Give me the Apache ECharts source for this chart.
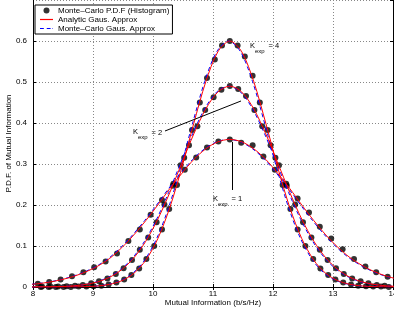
<!DOCTYPE html>
<html>
<head>
<meta charset="utf-8">
<script src="https://cdn.jsdelivr.net/npm/echarts/dist/echarts.min.js"></script>
<style>
  html, body { margin: 0; padding: 0; background: #fff; }
  #main { width: 394px; height: 310px; }
</style>
</head>
<body>
<div id="main"></div>
<script>
// Monte-Carlo histogram points (bin centres / pdf height)
var k1HistX = [8.08, 8.27, 8.46, 8.65, 8.84, 9.02, 9.21, 9.40, 9.59, 9.78, 9.96, 10.15, 10.34, 10.53, 10.72, 10.90,
    11.09, 11.28, 11.47, 11.66, 11.84, 12.03, 12.22, 12.41, 12.60, 12.78, 12.97, 13.16, 13.35, 13.54, 13.72, 13.91];
var k1HistY = [0.008, 0.012, 0.018, 0.026, 0.036, 0.048, 0.062, 0.082, 0.112, 0.140, 0.176, 0.212, 0.252, 0.286, 0.316, 0.340,
    0.355, 0.360, 0.352, 0.346, 0.318, 0.286, 0.252, 0.216, 0.182, 0.147, 0.118, 0.092, 0.068, 0.050, 0.036, 0.025];

var k2HistX = [8.15, 8.29, 8.42, 8.56, 8.70, 8.83, 8.97, 9.10, 9.24, 9.38, 9.51, 9.65, 9.78, 9.92, 10.06, 10.19, 10.33, 10.46,
    10.60, 10.74, 10.87, 11.01, 11.14, 11.28, 11.42, 11.55, 11.69, 11.82, 11.96, 12.10, 12.23, 12.37, 12.50, 12.64, 12.78,
    12.91, 13.05, 13.18, 13.32, 13.46, 13.59, 13.73, 13.86];
var k2HistY = [0.001, 0.001, 0.001, 0.002, 0.003, 0.005, 0.009, 0.014, 0.021, 0.032, 0.046, 0.066, 0.091, 0.121, 0.158, 0.201,
    0.247, 0.297, 0.346, 0.392, 0.432, 0.463, 0.481, 0.490, 0.483, 0.466, 0.432, 0.392, 0.346, 0.297, 0.247, 0.201, 0.158,
    0.121, 0.091, 0.066, 0.046, 0.032, 0.021, 0.014, 0.009, 0.005, 0.003];

var k4HistX = [8.13, 8.26, 8.38, 8.51, 8.63, 8.76, 8.89, 9.01, 9.14, 9.26, 9.39, 9.52, 9.64, 9.77, 9.89, 10.02, 10.15, 10.27,
    10.40, 10.52, 10.65, 10.78, 10.90, 11.03, 11.15, 11.28, 11.41, 11.53, 11.66, 11.78, 11.91, 12.04, 12.16, 12.29, 12.41,
    12.54, 12.67, 12.79, 12.92, 13.04, 13.17, 13.30, 13.42, 13.55, 13.67, 13.80, 13.93];
var k4HistY = [0, 0, 0, 0, 0, 0.001, 0.001, 0.002, 0.003, 0.006, 0.011, 0.018, 0.029, 0.045, 0.068, 0.100, 0.140, 0.190,
    0.249, 0.315, 0.383, 0.450, 0.510, 0.555, 0.589, 0.600, 0.589, 0.562, 0.515, 0.450, 0.383, 0.315, 0.249, 0.190, 0.140,
    0.100, 0.068, 0.045, 0.029, 0.018, 0.011, 0.006, 0.003, 0.002, 0.001, 0.001, 0];

// Gaussian approximation curves
var analyticX = [7.88, 8.08, 8.28, 8.48, 8.68, 8.88, 9.08, 9.28, 9.48, 9.68, 9.88, 10.08, 10.28, 10.48, 10.68, 10.88,
    11.08, 11.28, 11.48, 11.68, 11.88, 12.08, 12.28, 12.48, 12.68, 12.88, 13.08, 13.28, 13.48, 13.68, 13.88, 14.08];
var mcGausX = [7.86, 8.06, 8.26, 8.46, 8.66, 8.86, 9.06, 9.26, 9.46, 9.66, 9.86, 10.06, 10.26, 10.46, 10.66, 10.86,
    11.06, 11.26, 11.46, 11.66, 11.86, 12.06, 12.26, 12.46, 12.66, 12.86, 13.06, 13.26, 13.46, 13.66, 13.86, 14.06];
var k1GausY = [0.005, 0.008, 0.012, 0.018, 0.026, 0.037, 0.051, 0.070, 0.096, 0.127, 0.162, 0.200, 0.240, 0.277, 0.311, 0.337,
    0.354, 0.360, 0.354, 0.337, 0.311, 0.277, 0.240, 0.200, 0.162, 0.127, 0.097, 0.072, 0.053, 0.038, 0.027, 0.019];
var k2GausY = [0.0001, 0.0002, 0.0005, 0.0013, 0.0030, 0.0063, 0.0127, 0.0240, 0.0425, 0.0710, 0.1117, 0.1653, 0.2304, 0.3023,
    0.3734, 0.4343, 0.4754, 0.49, 0.4754, 0.4343, 0.3734, 0.3023, 0.2304, 0.1653, 0.1117, 0.0710, 0.0425, 0.0240, 0.0127,
    0.0063, 0.0030, 0.0013];
var k4GausY = [0, 0, 0, 0.0001, 0.0003, 0.0009, 0.0025, 0.0065, 0.0154, 0.0332, 0.0654, 0.1178, 0.1937, 0.2910, 0.3994,
    0.5007, 0.5735, 0.6, 0.5735, 0.5007, 0.3994, 0.2910, 0.1937, 0.1178, 0.0654, 0.0332, 0.0154, 0.0065, 0.0025, 0.0009,
    0.0003, 0.0001];

var histName = 'Monte\u2013Carlo P.D.F (Histogram)';
var analyticName = 'Analytic Gaus. Approx';
var mcName = 'Monte\u2013Carlo Gaus. Approx';

function pairs(xs, ys) {
    return xs.map(function (x, i) { return [x, ys[i]]; });
}

var FONT = 'Liberation Sans, Arial, Helvetica, sans-serif';

var chartDom = document.getElementById('main');
var myChart = echarts.init(chartDom);
var option;

function histSeries(xs, ys) {
    return {
        name: histName,
        type: 'scatter',
        symbol: 'circle',
        symbolSize: 6,
        itemStyle: { color: '#000' },
        z: 2,
        data: pairs(xs, ys)
    };
}
function curveSeries(name, xs, ys, color, dash, z) {
    return {
        name: name,
        type: 'line',
        smooth: 0.3,
        symbol: 'none',
        showSymbol: false,
        lineStyle: { color: color, width: 1, type: dash },
        itemStyle: { color: color },
        z: z,
        data: pairs(xs, ys)
    };
}

var arrows = [
    [[10.2, 0.3805], [11.467, 0.4537]],
    [[11.317, 0.2366], [11.317, 0.3537]]
];

option = {
    animation: false,
    backgroundColor: '#fff',
    textStyle: { fontFamily: FONT },
    grid: { left: 33, right: 1, top: 0, bottom: 23, containLabel: false, outerBoundsMode: 'none' },
    legend: {
        orient: 'vertical',
        left: 35,
        top: 5,
        padding: [1, 3, 1, 5],
        itemGap: 0,
        itemWidth: 13,
        itemHeight: 6,
        backgroundColor: '#fff',
        borderColor: '#000',
        borderWidth: 1,
        borderRadius: 0,
        textStyle: { fontSize: 8, color: '#000', lineHeight: 9, fontFamily: FONT },
        data: [
            { name: histName, icon: 'circle', itemStyle: { color: '#000' } },
            { name: analyticName, icon: 'path://M0,0H13V1.2H0Z', itemStyle: { color: '#ff0000', borderWidth: 0 } },
            { name: mcName, icon: 'path://M0,0H4V1.2H0ZM7,0H11V1.2H7ZM13,0H13.5V1.2H13Z', itemStyle: { color: '#0000ff', borderWidth: 0 } }
        ]
    },
    xAxis: [{
        type: 'value',
        min: 8,
        max: 14,
        interval: 1,
        name: 'Mutual Information (b/s/Hz)',
        nameLocation: 'middle',
        nameGap: 12,
        nameMoveOverlap: false,
        nameTextStyle: { fontSize: 8, color: '#000', fontFamily: FONT },
        axisLine: { lineStyle: { color: '#000', width: 1 } },
        axisTick: { inside: true, length: 3, lineStyle: { color: '#000' } },
        axisLabel: { fontSize: 8, color: '#000', margin: 3, fontFamily: FONT },
        splitLine: { show: true, lineStyle: { color: '#888', type: [1, 2], width: 1 } }
    }, {
        type: 'value',
        position: 'top',
        min: 8,
        max: 14,
        interval: 1,
        axisLine: { lineStyle: { color: '#000', width: 1 } },
        axisTick: { inside: true, length: 3, lineStyle: { color: '#000' } },
        axisLabel: { show: false },
        splitLine: { show: false }
    }],
    yAxis: [{
        type: 'value',
        min: 0,
        max: 0.7,
        interval: 0.1,
        name: 'P.D.F. of Mutual Information',
        nameLocation: 'middle',
        nameGap: 20,
        nameMoveOverlap: false,
        nameTextStyle: { fontSize: 8, color: '#000', fontFamily: FONT },
        axisLine: { show: true, lineStyle: { color: '#000', width: 1 } },
        axisTick: { show: true, inside: true, length: 3, lineStyle: { color: '#000' } },
        axisLabel: { fontSize: 8, color: '#000', margin: 6, showMaxLabel: false, fontFamily: FONT },
        splitLine: { show: true, lineStyle: { color: '#888', type: [1, 2], width: 1 } }
    }, {
        type: 'value',
        position: 'right',
        min: 0,
        max: 0.7,
        interval: 0.1,
        axisLine: { show: true, lineStyle: { color: '#000', width: 1 } },
        axisTick: { show: true, inside: true, length: 3, lineStyle: { color: '#000' } },
        axisLabel: { show: false },
        splitLine: { show: false }
    }],
    series: [
        histSeries(k1HistX, k1HistY),
        histSeries(k2HistX, k2HistY),
        histSeries(k4HistX, k4HistY),
        curveSeries(mcName, mcGausX, k1GausY, '#0000ff', [4, 3], 3),
        curveSeries(mcName, mcGausX, k2GausY, '#0000ff', [4, 3], 3),
        curveSeries(mcName, mcGausX, k4GausY, '#0000ff', [4, 3], 3),
        curveSeries(analyticName, analyticX, k1GausY, '#ff0000', 'solid', 4),
        curveSeries(analyticName, analyticX, k2GausY, '#ff0000', 'solid', 4),
        curveSeries(analyticName, analyticX, k4GausY, '#ff0000', 'solid', 4),
        {
            name: 'arrows',
            type: 'line',
            data: [],
            z: 6,
            markLine: {
                silent: true,
                symbol: ['none', 'arrow'],
                symbolSize: [0, 7],
                label: { show: false },
                lineStyle: { color: '#000', width: 1, type: 'solid' },
                data: arrows.map(function (a) {
                    return [{ coord: a[0] }, { coord: a[1] }];
                })
            }
        }
    ]
};

option && myChart.setOption(option);

// K_exp labels, anchored in data coordinates
var kLabels = [
    { at: [11.617, 0.589], k: '4' },
    { at: [9.667, 0.378], k: '2' },
    { at: [11.0, 0.2159], k: '1' }
];
var graphics = kLabels.map(function (l) {
    var p = myChart.convertToPixel({ gridIndex: 0 }, l.at);
    return {
        type: 'group',
        x: p[0],
        y: p[1],
        z: 10,
        children: [
            { type: 'text', x: 0, y: 0, style: { text: 'K', fill: '#000', font: '7.5px ' + FONT, verticalAlign: 'middle', textVerticalAlign: 'middle' } },
            { type: 'text', x: 5, y: 5.5, style: { text: 'exp', fill: '#000', font: '6px ' + FONT, verticalAlign: 'middle', textVerticalAlign: 'middle' } },
            { type: 'text', x: 18.5, y: 0.5, style: { text: '= ' + l.k, fill: '#000', font: '7.5px ' + FONT, verticalAlign: 'middle', textVerticalAlign: 'middle' } }
        ]
    };
});
myChart.setOption({ graphic: graphics });
</script>
</body>
</html>
